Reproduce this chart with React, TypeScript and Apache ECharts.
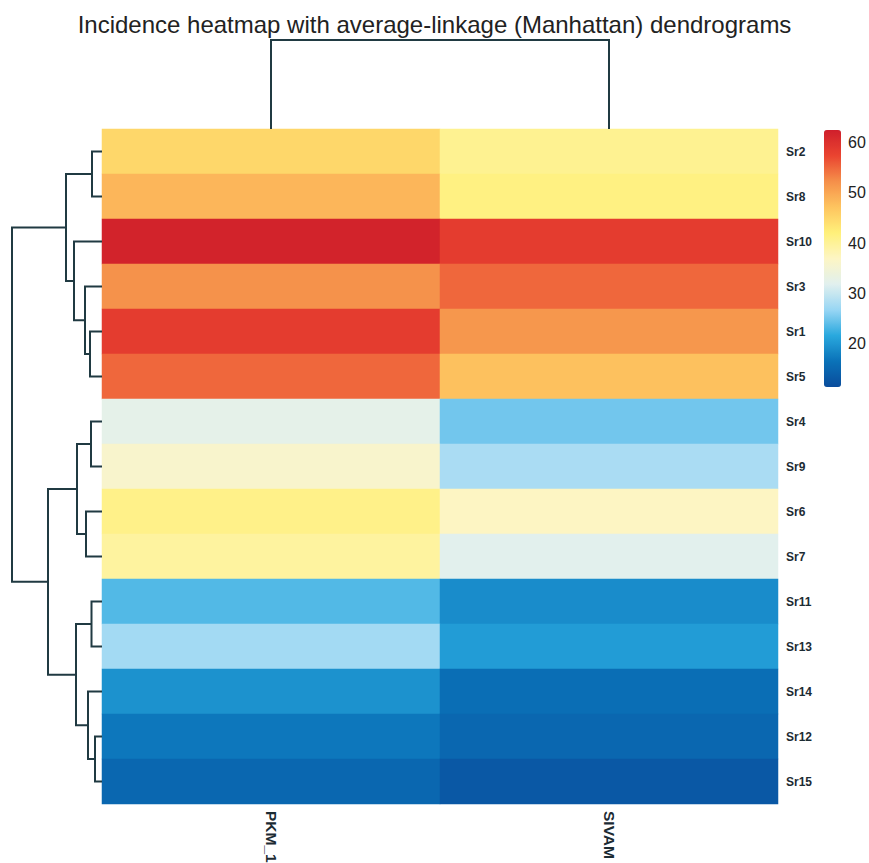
import React, { useEffect, useRef } from "react";
import * as echarts from "echarts";

// ---- data ----
const rowLabels = ["Sr2", "Sr8", "Sr10", "Sr3", "Sr1", "Sr5", "Sr4", "Sr9", "Sr6", "Sr7", "Sr11", "Sr13", "Sr14", "Sr12", "Sr15"];
const colLabels = ["PKM_1", "SIVAM"];
const pkm1Values = [45, 48.5, 62, 52, 58.5, 55, 32.5, 36, 41, 39.5, 23.5, 27.5, 19.5, 17, 15];
const sivamValues = [40.5, 41.5, 58.5, 55, 51.5, 47.5, 25, 28, 37, 32, 19, 20.5, 16, 15, 13];

// row dendrogram: [node, childA, childB, merge height]
const rowMerges: [string, string, string, number][] = [
  ["A", "Sr2", "Sr8", 10],
  ["B", "Sr1", "Sr5", 12],
  ["C", "Sr3", "B", 17],
  ["D", "Sr10", "C", 28],
  ["E", "A", "D", 36],
  ["F", "Sr4", "Sr9", 11],
  ["G", "Sr6", "Sr7", 16],
  ["H", "F", "G", 25],
  ["I", "Sr11", "Sr13", 10.5],
  ["J", "Sr12", "Sr15", 7],
  ["K", "Sr14", "J", 14],
  ["L", "I", "K", 26],
  ["M", "H", "L", 54],
  ["R", "E", "M", 90],
];
const rowTreeMax = 90;

// column dendrogram
const colMerges: [string, string, string, number][] = [["R", "PKM_1", "SIVAM", 89]];
const colTreeMax = 89;

const colorbarTicks = [20, 30, 40, 50, 60];
const colorMin = 11.4;
const colorMax = 62.5;
const paletteStops = [
  "#0a4c9c", "#0a72b8", "#29a8de", "#98d6f4", "#e1f0ee", "#fdf5c4",
  "#fff07a", "#fec45f", "#f58f4a", "#ea4430", "#cf1f2b",
];

const title = "Incidence heatmap with average-linkage (Manhattan) dendrograms";

// ---- helpers ----
function buildLinks(leaves: string[], merges: [string, string, string, number][]) {
  const pos: Record<string, number> = {};
  const hgt: Record<string, number> = {};
  leaves.forEach((l, i) => { pos[l] = i; hgt[l] = 0; });
  const out: number[][] = [];
  merges.forEach(([n, a, b, h]) => {
    pos[n] = (pos[a] + pos[b]) / 2;
    hgt[n] = h;
    out.push([h, pos[a], pos[b], hgt[a], hgt[b]]);
  });
  return out;
}

const lineColor = "#203a42";

export default function App() {
  const ref = useRef<HTMLDivElement>(null);
  useEffect(() => {
    if (!ref.current) return;
    const chart = echarts.init(ref.current, null, { renderer: "svg" });

    const heatData: number[][] = [];
    rowLabels.forEach((_, r) => {
      heatData.push([0, r, pkm1Values[r]]);
      heatData.push([1, r, sivamValues[r]]);
    });
    const rowLinks = buildLinks(rowLabels, rowMerges);
    const colLinks = buildLinks(colLabels, colMerges);

    const HM = { left: 102, top: 129, width: 676, height: 675 };
    const font = "'Liberation Sans', Arial, sans-serif";
    const gb = { containLabel: false, outerBoundsMode: "none" };

    chart.setOption({
      animation: false,
      backgroundColor: "#ffffff",
      title: {
        text: title,
        left: "center",
        top: 7,
        textStyle: { fontSize: 24, fontWeight: "normal", color: "#222", fontFamily: font },
      },
      grid: [
        { ...HM, ...gb },
        { left: 12, top: HM.top, width: HM.left - 12, height: HM.height, ...gb },
        { left: HM.left, top: 40, width: HM.width, height: HM.top - 40, ...gb },
        { left: 824, top: 130, width: 17, height: 257, ...gb },
      ],
      xAxis: [
        {
          gridIndex: 0, type: "category", data: colLabels, position: "bottom",
          axisLine: { show: false }, axisTick: { show: false }, splitLine: { show: false },
          axisLabel: { rotate: -90, margin: 7, fontSize: 15.5, fontWeight: "bold", color: "#1c2b33", fontFamily: font },
        },
        { gridIndex: 1, type: "value", min: 0, max: rowTreeMax, inverse: true, show: false },
        { gridIndex: 2, type: "value", min: -0.5, max: colLabels.length - 0.5, show: false },
        { gridIndex: 3, type: "value", min: 0, max: 1, show: false },
      ],
      yAxis: [
        {
          gridIndex: 0, type: "category", data: rowLabels, inverse: true, position: "right",
          axisLine: { show: false }, axisTick: { show: false }, splitLine: { show: false },
          axisLabel: { margin: 8, fontSize: 12, fontWeight: "bold", color: "#1c2b33", fontFamily: font },
        },
        { gridIndex: 1, type: "value", min: -0.5, max: rowLabels.length - 0.5, inverse: true, show: false },
        { gridIndex: 2, type: "value", min: 0, max: colTreeMax, show: false },
        {
          gridIndex: 3, type: "value", min: colorMin, max: colorMax, position: "right",
          axisLine: { show: false }, axisTick: { show: false }, splitLine: { show: false },
          axisLabel: { customValues: colorbarTicks, margin: 7, fontSize: 16, color: "#222", fontFamily: font },
        },
      ],
      visualMap: {
        type: "continuous",
        min: colorMin,
        max: colorMax,
        seriesIndex: 0,
        show: true,
        calculable: false,
        left: 824,
        top: 130,
        padding: 0,
        itemWidth: 17,
        itemHeight: 257,
        inRange: { color: paletteStops },
      },
      series: [
        {
          type: "heatmap",
          xAxisIndex: 0,
          yAxisIndex: 0,
          data: heatData,
          itemStyle: { borderWidth: 0 },
          emphasis: { disabled: true },
        },
        {
          type: "custom",
          xAxisIndex: 1,
          yAxisIndex: 1,
          data: rowLinks,
          encode: { x: [0, 3, 4], y: [1, 2] },
          silent: true,
          renderItem: (_p: any, api: any) => {
            const h = api.value(0), pa = api.value(1), pb = api.value(2), ha = api.value(3), hb = api.value(4);
            const pts = [api.coord([ha, pa]), api.coord([h, pa]), api.coord([h, pb]), api.coord([hb, pb])];
            return { type: "polyline", shape: { points: pts }, style: { stroke: lineColor, lineWidth: 2, fill: "none" } };
          },
        },
        {
          type: "custom",
          xAxisIndex: 2,
          yAxisIndex: 2,
          data: colLinks,
          encode: { x: [1, 2], y: [0, 3, 4] },
          silent: true,
          renderItem: (_p: any, api: any) => {
            const h = api.value(0), pa = api.value(1), pb = api.value(2), ha = api.value(3), hb = api.value(4);
            const pts = [api.coord([pa, ha]), api.coord([pa, h]), api.coord([pb, h]), api.coord([pb, hb])];
            return { type: "polyline", shape: { points: pts }, style: { stroke: lineColor, lineWidth: 2, fill: "none" } };
          },
        },
      ],
    });
    return () => chart.dispose();
  }, []);
  return <div ref={ref} style={{ position: "absolute", left: 0, top: 0, width: 869, height: 863 }} />;
}
